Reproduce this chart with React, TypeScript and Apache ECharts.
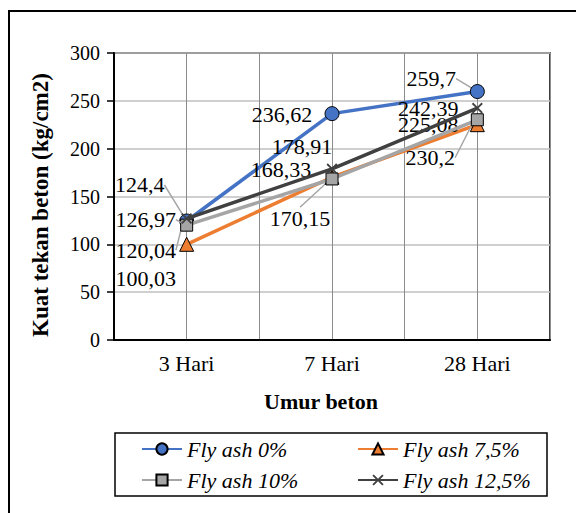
import React, { useEffect, useRef } from "react";
import * as echarts from "echarts";

const categories = ["3 Hari", "7 Hari", "28 Hari"];
const seriesNames = ["Fly ash 0%", "Fly ash 7,5%", "Fly ash 10%", "Fly ash 12,5%"];
const fa0 = [124.4, 236.62, 259.7];
const fa75 = [100.03, 170.15, 225.08];
const fa10 = [120.04, 168.33, 230.2];
const fa125 = [126.97, 178.91, 242.39];
const yTicks = { min: 0, max: 300, interval: 50 };

// label placement (offset from point) and whether a leader line is drawn
const labelOffsets = [
  [[-47, -36], [-50, 1], [-46, -13]],
  [[-41, 34], [-32, 41], [-49, 0]],
  [[-41, 25], [-51, -9], [-47, 38]],
  [[-41, 1], [-30, -22], [-49, 0]],
];
const leaders = [
  [true, false, true],
  [false, true, false],
  [true, false, true],
  [true, false, false],
];

const FONT = "'Liberation Serif', 'Times New Roman', serif";
const LEGEND_FONT = "'Times New Roman', 'Liberation Serif', 'DejaVu Serif', serif";
const X_PATH =
  "path://M0,1.2L1.2,0L5,3.8L8.8,0L10,1.2L6.2,5L10,8.8L8.8,10L5,6.2L1.2,10L0,8.8L3.8,5Z";

const fmt = (v: number) => String(v).replace(".", ",");

export default function App() {
  const ref = useRef<HTMLDivElement>(null);
  useEffect(() => {
    if (!ref.current) return;
    const chart = echarts.init(ref.current, undefined, { renderer: "svg" });
    const styles = [
      { color: "#4472C4", symbol: "circle", size: 14 },
      { color: "#ED7D31", symbol: "triangle", size: 14 },
      { color: "#A5A5A5", symbol: "rect", size: 12 },
      { color: "#404040", symbol: X_PATH, size: 11 },
    ];
    const values = [fa0, fa75, fa10, fa125];
    const series = values.map((vals, si) => ({
      name: seriesNames[si],
      type: "line",
      xAxisIndex: 0,
      yAxisIndex: 0,
      symbol: styles[si].symbol,
      symbolSize: styles[si].size,
      lineStyle: { color: styles[si].color, width: 3.5 },
      itemStyle: {
        color: styles[si].color,
        borderColor: si === 3 ? styles[si].color : "#000",
        borderWidth: si === 3 ? 0 : 1,
      },
      z: 2 + si,
      data: vals.map((v, di) => ({
        value: v,
        labelLine: {
          show: leaders[si][di],
          lineStyle: { color: "#a6a6a6", width: 1.5 },
        },
      })),
      label: {
        show: true,
        position: "inside",
        formatter: (p: any) => fmt(p.value),
        color: "#000",
        fontFamily: FONT,
        fontSize: 22,
      },
      labelLine: { show: false, lineStyle: { color: "#a6a6a6", width: 1.5 } },
      labelLayout: (p: any) => {
        const o = labelOffsets[p.seriesIndex][p.dataIndex];
        return { dx: o[0], dy: o[1] };
      },
    }));

    const legendText = {
      fontFamily: LEGEND_FONT,
      fontSize: 22,
      fontStyle: "italic",
      color: "#000",
    };

    chart.setOption({
      animation: false,
      backgroundColor: "#fff",
      grid: {
        left: 114,
        right: 26,
        top: 53,
        bottom: 173,
        show: true,
        borderColor: "#000",
        borderWidth: 1.5,
        containLabel: false,
      },
      xAxis: [
        {
          type: "category",
          data: categories,
          boundaryGap: true,
          name: "Umur beton",
          nameLocation: "middle",
          nameGap: 50,
          nameTextStyle: {
            fontFamily: FONT,
            fontSize: 22,
            fontWeight: "bold",
            color: "#000",
            padding: [0, 22, 0, 0],
          },
          axisLine: { lineStyle: { color: "#000", width: 2 } },
          axisTick: { alignWithLabel: true, length: 6, lineStyle: { color: "#000", width: 2 } },
          axisLabel: { fontFamily: FONT, fontSize: 22, color: "#000", margin: 12 },
          splitLine: { show: false },
        },
        {
          type: "category",
          data: ["a", "b", "c", "d", "e", "f"],
          boundaryGap: true,
          position: "bottom",
          axisLine: { show: false },
          axisTick: { show: false },
          axisLabel: { show: false },
          splitLine: { show: true, interval: 0, lineStyle: { color: "#8c8c8c", width: 1 } },
        },
      ],
      yAxis: {
        type: "value",
        min: yTicks.min,
        max: yTicks.max,
        interval: yTicks.interval,
        name: "Kuat tekan beton (kg/cm2)",
        nameLocation: "middle",
        nameGap: 62,
        nameTextStyle: {
          fontFamily: FONT,
          fontSize: 23,
          fontWeight: "bold",
          color: "#000",
          padding: [0, 17, 0, 0],
        },
        axisLine: { show: true, lineStyle: { color: "#000", width: 2 } },
        axisTick: { show: true, length: 7, lineStyle: { color: "#000", width: 1.5 } },
        axisLabel: { fontFamily: FONT, fontSize: 20, color: "#000", margin: 14 },
        splitLine: { show: true, lineStyle: { color: "#bfbfbf", width: 1.5 } },
      },
      legend: [
        {
          data: [seriesNames[0], seriesNames[2]],
          orient: "vertical",
          left: 136,
          top: 433,
          itemWidth: 40,
          itemHeight: 14,
          itemGap: 9,
          textStyle: legendText,
        },
        {
          data: [seriesNames[1], seriesNames[3]],
          orient: "vertical",
          left: 352,
          top: 433,
          itemWidth: 40,
          itemHeight: 14,
          itemGap: 9,
          textStyle: legendText,
        },
      ],
      graphic: [
        {
          type: "rect",
          shape: { x: 9, y: 11, width: 700, height: 700 },
          style: { fill: "none", stroke: "#000", lineWidth: 2 },
          silent: true,
        },
        {
          type: "rect",
          shape: { x: 115, y: 433, width: 432, height: 63 },
          style: { fill: "none", stroke: "#000", lineWidth: 1.5 },
          silent: true,
        },
      ],
      series,
    });
    return () => chart.dispose();
  }, []);
  return (
    <div
      ref={ref}
      style={{ position: "fixed", left: 0, top: 0, width: 576, height: 513, background: "#fff" }}
    />
  );
}
